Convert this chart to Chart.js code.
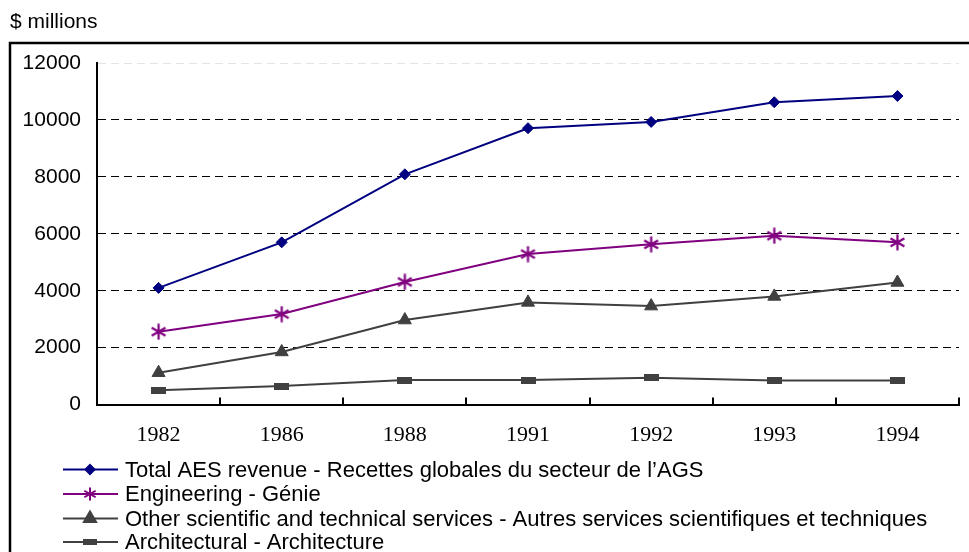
<!DOCTYPE html>
<html>
<head>
<meta charset="utf-8">
<script src="https://cdn.jsdelivr.net/npm/chart.js@4.4.1/dist/chart.umd.min.js"></script>
<style>
  body { margin: 0; background: #fff; }
  #wrap { width: 969px; height: 552px; position: relative; }
</style>
</head>
<body>
<div id="wrap"><canvas id="grafica"></canvas></div>
<script>
// datos
const anios = ['1982', '1986', '1988', '1991', '1992', '1993', '1994'];
const totalAES = [4100, 5700, 8090, 9710, 9930, 10620, 10840];
const ingenieria = [2560, 3180, 4310, 5290, 5630, 5930, 5700];
const otrosServicios = [1120, 1850, 2970, 3590, 3460, 3800, 4290];
const arquitectura = [500, 650, 860, 860, 940, 850, 850];

const etiquetas = [
  'Total AES revenue - Recettes globales du secteur de l\u2019AGS',
  'Engineering - G\u00e9nie',
  'Other scientific and technical services - Autres services scientifiques et techniques',
  'Architectural - Architecture'
];
const ticksY = [0, 2000, 4000, 6000, 8000, 10000, 12000];

const fuente = '"Liberation Sans", Arial, sans-serif';
const fuenteSerif = '"Liberation Serif", "Times New Roman", serif';

// marcadores propios: asterisco y rectangulo
function hacerAsterisco(color, tam, grosor) {
  const c = document.createElement('canvas');
  c.width = tam; c.height = tam;
  const ctx = c.getContext('2d');
  const m = tam / 2;
  ctx.strokeStyle = color;
  ctx.lineWidth = grosor;
  ctx.beginPath();
  for (let k = 0; k < 3; k++) {
    const a = Math.PI / 2 + k * Math.PI / 3;
    ctx.moveTo(m + Math.cos(a) * (m - 0.5), m + Math.sin(a) * (m - 0.5));
    ctx.lineTo(m - Math.cos(a) * (m - 0.5), m - Math.sin(a) * (m - 0.5));
  }
  ctx.stroke();
  return c;
}
function hacerRect(color, w, h) {
  const c = document.createElement('canvas');
  c.width = w; c.height = h;
  const ctx = c.getContext('2d');
  ctx.fillStyle = color;
  ctx.fillRect(0, 0, w, h);
  return c;
}
const asterisco = hacerAsterisco('#800080', 17, 2.2);
const asteriscoChico = hacerAsterisco('#800080', 14, 2);
const rectangulo = hacerRect('#404040', 15, 7);
const rectChico = hacerRect('#404040', 14, 6);

// marco, titulo del eje y leyenda
const extras = {
  id: 'extras',
  afterDraw(chart) {
    const ctx = chart.ctx;
    ctx.save();
    ctx.strokeStyle = '#000';
    ctx.lineWidth = 2.5;
    ctx.strokeRect(10, 43, 1000, 600);
    ctx.fillStyle = '#000';
    ctx.font = '21px ' + fuente;
    ctx.textBaseline = 'alphabetic';
    ctx.textAlign = 'left';
    ctx.fillText('$ millions', 10, 28);

    ctx.font = '22px ' + fuente;
    const filas = [469.5, 494, 518.5, 542];
    chart.data.datasets.forEach((ds, i) => {
      const y = filas[i];
      ctx.strokeStyle = ds.borderColor;
      ctx.lineWidth = 2;
      ctx.beginPath();
      ctx.moveTo(63, y);
      ctx.lineTo(118, y);
      ctx.stroke();
      const estilo = ds.legendStyle;
      const r = ds.legendRadius;
      ctx.fillStyle = ds.pointBackgroundColor;
      if (estilo instanceof HTMLCanvasElement) {
        ctx.drawImage(estilo, 90 - estilo.width / 2, y - estilo.height / 2);
      } else {
        Chart.helpers.drawPoint(ctx, {pointStyle: estilo, radius: r, borderWidth: 1}, 90, y);
        ctx.fill();
      }
      ctx.fillStyle = '#000';
      ctx.textBaseline = 'middle';
      ctx.fillText(ds.label, 125, y + 1);
    });
    ctx.restore();
  }
};

const datos = {
  labels: anios,
  datasets: [
    {
      label: etiquetas[0],
      data: totalAES,
      borderColor: '#000080',
      backgroundColor: '#000080',
      pointBackgroundColor: '#000080',
      pointBorderColor: '#000080',
      pointStyle: 'rectRot',
      pointRadius: 5.5,
      legendStyle: 'rectRot',
      legendRadius: 4.5,
    },
    {
      label: etiquetas[1],
      data: ingenieria,
      borderColor: '#800080',
      backgroundColor: '#800080',
      pointBackgroundColor: '#800080',
      pointStyle: asterisco,
      pointRadius: 8,
      legendStyle: asteriscoChico,
    },
    {
      label: etiquetas[2],
      data: otrosServicios,
      borderColor: '#404040',
      backgroundColor: '#404040',
      pointBackgroundColor: '#404040',
      pointBorderColor: '#404040',
      pointStyle: 'triangle',
      pointRadius: 7.5,
      legendStyle: 'triangle',
      legendRadius: 7,
    },
    {
      label: etiquetas[3],
      data: arquitectura,
      borderColor: '#404040',
      backgroundColor: '#404040',
      pointBackgroundColor: '#404040',
      pointStyle: rectangulo,
      pointRadius: 7,
      legendStyle: rectChico,
    },
  ],
};

const config = {
  type: 'line',
  data: datos,
  options: {
    responsive: true,
    maintainAspectRatio: false,
    animation: false,
    events: [],
    elements: {
      line: { borderWidth: 2, tension: 0 },
      point: { borderWidth: 1, hoverRadius: 0 },
    },
    layout: { padding: { top: 63, right: 10, left: 0, bottom: 0 } },
    plugins: {
      legend: { display: false },
      tooltip: { enabled: false },
    },
    scales: {
      x: {
        type: 'category',
        offset: true,
        afterFit: (scale) => { scale.height = 147.4; },
        grid: {
          offset: true,
          drawOnChartArea: false,
          drawTicks: true,
          tickLength: -7,
          color: '#000',
          lineWidth: 2,
        },
        border: { color: '#000', width: 2 },
        ticks: {
          color: '#000',
          padding: 24,
          font: { family: fuenteSerif, size: 22 },
          maxRotation: 0,
        },
      },
      y: {
        min: 0,
        max: 12000,
        afterFit: (scale) => { scale.width = 97; },
        afterBuildTicks: (scale) => {
          scale.ticks = ticksY.map((v) => ({ value: v }));
        },
        grid: {
          drawTicks: false,
          lineWidth: 1,
          color: (c) => {
            if (c.tick && c.tick.value === 0) return 'rgba(0,0,0,0)';
            if (c.tick && c.tick.value === 12000) return '#e4e4e4';
            return '#000';
          },
        },
        border: { color: '#000', width: 2, dash: [8, 5] },
        ticks: {
          color: '#000',
          padding: 16,
          font: { family: fuente, size: 21 },
          callback: (v) => String(v),
        },
      },
    },
  },
  plugins: [extras],
};

let miGrafica = new Chart(document.querySelector('#grafica'), config);
</script>
</body>
</html>
